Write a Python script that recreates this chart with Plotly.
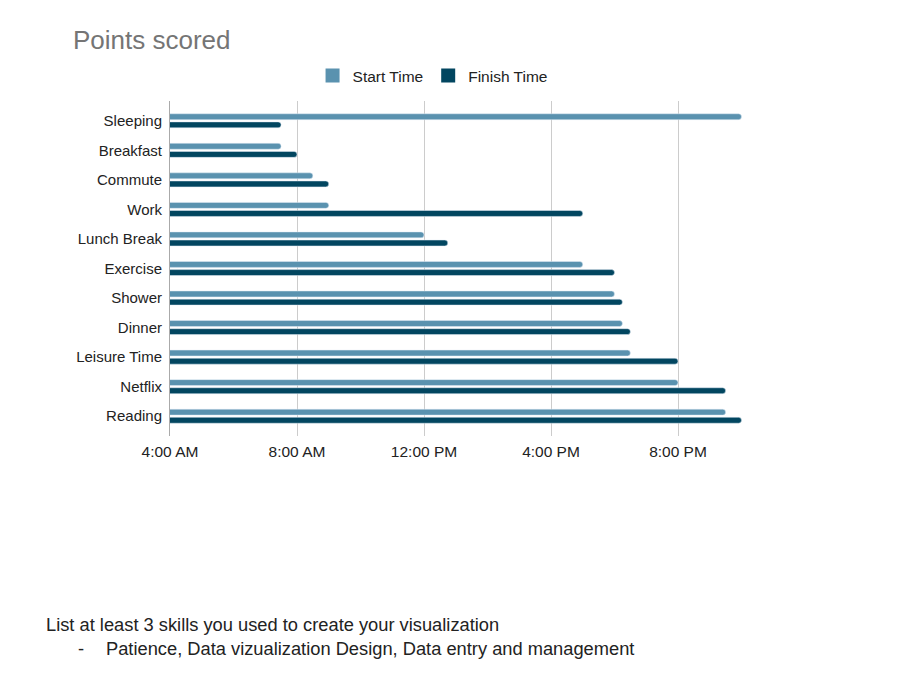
import plotly.graph_objects as go

activities = ["Sleeping", "Breakfast", "Commute", "Work", "Lunch Break", "Exercise",
              "Shower", "Dinner", "Leisure Time", "Netflix", "Reading"]
# hours of day (24h clock)
start_time = [22.0, 7.5, 8.5, 9.0, 12.0, 17.0, 18.0, 18.25, 18.5, 20.0, 21.5]
finish_time = [7.5, 8.0, 9.0, 17.0, 12.75, 18.0, 18.25, 18.5, 20.0, 21.5, 22.0]
tick_vals = [4, 8, 12, 16, 20, 24]
tick_text = ["4:00 AM", "8:00 AM", "12:00 PM", "4:00 PM", "8:00 PM", ""]

START_COLOR = "#5a92af"
FINISH_COLOR = "#024660"

fig = go.Figure()
fig.add_trace(go.Bar(y=activities, x=start_time, orientation="h", name="Start Time",
                     marker=dict(color=START_COLOR, cornerradius=3), showlegend=False))
fig.add_trace(go.Bar(y=activities, x=finish_time, orientation="h", name="Finish Time",
                     marker=dict(color=FINISH_COLOR, cornerradius=3), showlegend=False))
# legend entries with square swatches
for name, col in [("Start Time", START_COLOR), ("Finish Time", FINISH_COLOR)]:
    fig.add_trace(go.Scatter(x=[None], y=[None], mode="markers", name=name,
                             marker=dict(symbol="square", size=14, color=col),
                             showlegend=True))

fig.update_layout(
    width=919, height=676,
    paper_bgcolor="white", plot_bgcolor="white",
    margin=dict(l=170, r=114, t=101, b=240),
    barmode="group", bargap=0.45, bargroupgap=0.27,
    font=dict(family="Liberation Sans, Arial, sans-serif", size=15, color="#222222"),
    title=dict(text="Points scored", x=73/919, xanchor="left", y=1-40/676, yanchor="middle",
               font=dict(size=26, color="#757575")),
    legend=dict(orientation="h", x=0.2245, xanchor="left", y=1+(101-76)/335, yanchor="middle",
                font=dict(size=15.5, color="#222222"), traceorder="normal"),
    showlegend=True,
)
fig.update_xaxes(range=[4, 24], tickvals=tick_vals, ticktext=tick_text,
                 showgrid=True, gridcolor="#cccccc", zeroline=False,
                 ticks="outside", ticklen=1, tickcolor="rgba(0,0,0,0)",
                 tickfont=dict(size=15.5, color="#222222"), fixedrange=True)
fig.update_yaxes(type="category", autorange=False, range=[10.67, -0.67], showgrid=False,
                 showline=True, linecolor="#aaaaaa", ticks="", ticklabelstandoff=4,
                 tickfont=dict(size=15, color="#222222"))

fig.add_annotation(text="List at least 3 skills you used to create your visualization",
                   xref="paper", yref="paper", x=-126/635, y=-(624-436)/335,
                   xanchor="left", yanchor="middle", showarrow=False,
                   font=dict(size=18.3, color="#222222"))
fig.add_annotation(text="-", xref="paper", yref="paper", x=-94/635, y=-(648-436)/335,
                   xanchor="left", yanchor="middle", showarrow=False,
                   font=dict(size=18.3, color="#222222"))
fig.add_annotation(text="Patience, Data vizualization Design, Data entry and management",
                   xref="paper", yref="paper", x=-66/635, y=-(648-436)/335,
                   xanchor="left", yanchor="middle", showarrow=False,
                   font=dict(size=18.3, color="#222222"))

fig.write_html("out.html")
